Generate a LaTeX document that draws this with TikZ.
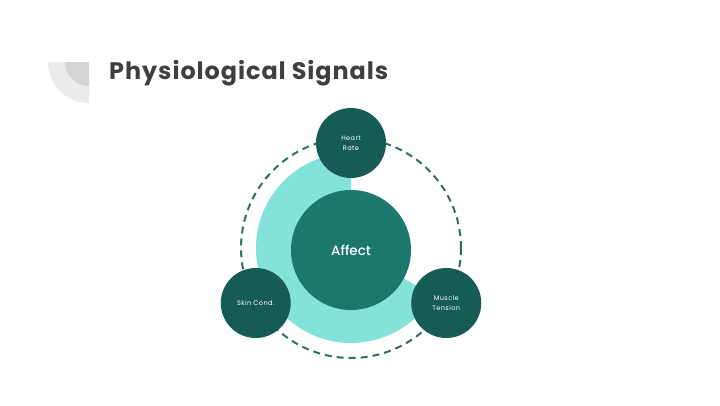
\documentclass[tikz,border=0pt]{standalone}
\usepackage{fontspec}
\setmainfont{Poppins}
\newfontfamily\titlefont{Poppins}[UprightFont=*-Bold,LetterSpace=4]
\newfontfamily\hubfont{Poppins}[UprightFont=*-Medium]
\newfontfamily\satfont{Poppins}[LetterSpace=6]
\definecolor{darkteal}{HTML}{175C54}
\definecolor{midteal}{HTML}{1C786C}
\definecolor{lightteal}{HTML}{84E3D9}
\definecolor{dashteal}{HTML}{2B7166}
\definecolor{titlegray}{HTML}{3F3F3F}
\definecolor{decolight}{HTML}{EBEBEB}
\definecolor{decodark}{HTML}{D5D5D5}
\begin{document}
\begin{tikzpicture}[x=1bp,y=1bp,
  sat/.style={circle,fill=darkteal,minimum size=70bp,inner sep=0pt,text=white,font=\satfont\fontsize{6.6}{9}\selectfont,align=center},
  hub/.style={circle,fill=midteal,minimum size=120bp,inner sep=0pt,text=white,font=\hubfont\fontsize{13.5}{15}\selectfont},
  ring/.style={dashteal,line width=2bp,dash pattern=on 7bp off 5bp}]
\useasboundingbox (0,0) rectangle (720,405);
% decoration
\fill[decolight] (89,343) -- ++(180:41) arc[start angle=180,end angle=270,radius=41] -- cycle;
\fill[decodark] (89,343) -- ++(180:24) arc[start angle=180,end angle=270,radius=24] -- cycle;
% title
\node[anchor=west,text=titlegray,font=\titlefont\fontsize{24}{27}\selectfont,inner sep=0pt] (title) at (109,332) {Physiological Signals};
% center
\coordinate (c) at (351,157);
\draw[ring] (c) circle[radius=110];
\fill[lightteal] (c) -- ++(90:95) arc[start angle=90,end angle=330,radius=95] -- cycle;
\node[hub] (affect) at ([yshift=-2]c) {Affect};
\node[sat] (heart) at ([shift={(90:105)}]c) {Heart\\[1pt]Rate};
\node[sat] (skin) at ([shift={(210:110)}]c) {Skin Cond.};
\node[sat] (muscle) at ([shift={(330:110)}]c) {Muscle\\[1pt]Tension};
\end{tikzpicture}
\end{document}
